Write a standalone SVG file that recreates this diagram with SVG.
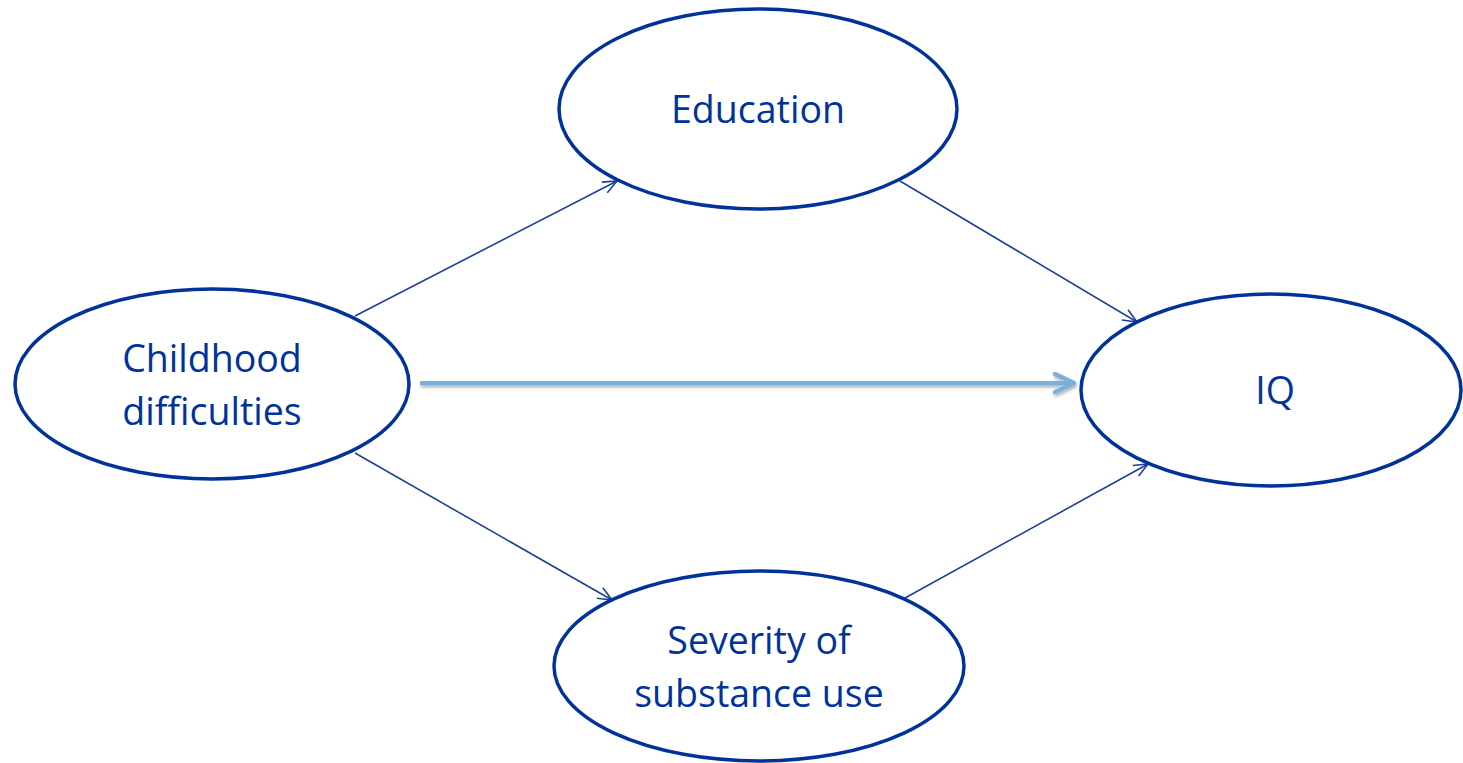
<svg xmlns="http://www.w3.org/2000/svg" width="1463" height="763" viewBox="0 0 1463 763">
<style>
.node{fill:#ffffff;stroke:#003399;stroke-width:3.5}
.lbl{font-family:"Open Sans","Noto Sans",sans-serif;font-size:37.5px;fill:#003399;text-anchor:middle}
.thin{stroke:#1f3f9a;stroke-width:1.6;fill:none}
.main{stroke:#7ab0dc;stroke-width:4;fill:none}
</style>
<defs>
<marker id="ah" markerUnits="userSpaceOnUse" viewBox="-16 -8 18 16" markerWidth="18" markerHeight="16" refX="0" refY="0" orient="auto">
<path d="M-14,-6 L0,0 L-14,6" fill="none" stroke="#1f3f9a" stroke-width="1.6"/>
</marker>
<marker id="ahb" markerUnits="userSpaceOnUse" viewBox="-24 -12 27 24" markerWidth="27" markerHeight="24" refX="0" refY="0" orient="auto">
<path d="M-20,-9 L-1,0 L-20,9" fill="none" stroke="#7ab0dc" stroke-width="4.5" stroke-linecap="round" stroke-linejoin="round"/>
</marker>
<filter id="sh" filterUnits="userSpaceOnUse" x="400" y="360" width="700" height="50">
<feDropShadow dx="1" dy="2.5" stdDeviation="1.5" flood-color="#000000" flood-opacity="0.3"/>
</filter>
</defs>
<g id="connectors">
<line class="thin" x1="355" y1="316" x2="617" y2="181" marker-end="url(#ah)"/>
<line class="thin" x1="900" y1="181" x2="1137" y2="322" marker-end="url(#ah)"/>
<line class="thin" x1="355" y1="453" x2="612" y2="600" marker-end="url(#ah)"/>
<line class="thin" x1="905" y1="598" x2="1148" y2="464" marker-end="url(#ah)"/>
<line class="main" x1="420" y1="383" x2="1075" y2="383" marker-end="url(#ahb)" filter="url(#sh)"/>
</g>
<g id="education">
<ellipse class="node" cx="758" cy="109" rx="199" ry="100"/>
<text class="lbl" x="758" y="123">Education</text>
</g>
<g id="childhood">
<ellipse class="node" cx="212" cy="384" rx="197" ry="95"/>
<text class="lbl" x="212" y="372">Childhood</text>
<text class="lbl" x="212" y="425">difficulties</text>
</g>
<g id="iq">
<ellipse class="node" cx="1271" cy="390" rx="190" ry="96"/>
<text class="lbl" x="1275" y="404">IQ</text>
</g>
<g id="severity">
<ellipse class="node" cx="759" cy="666" rx="205" ry="95"/>
<text class="lbl" x="759" y="654">Severity of</text>
<text class="lbl" x="759" y="707">substance use</text>
</g>
</svg>
